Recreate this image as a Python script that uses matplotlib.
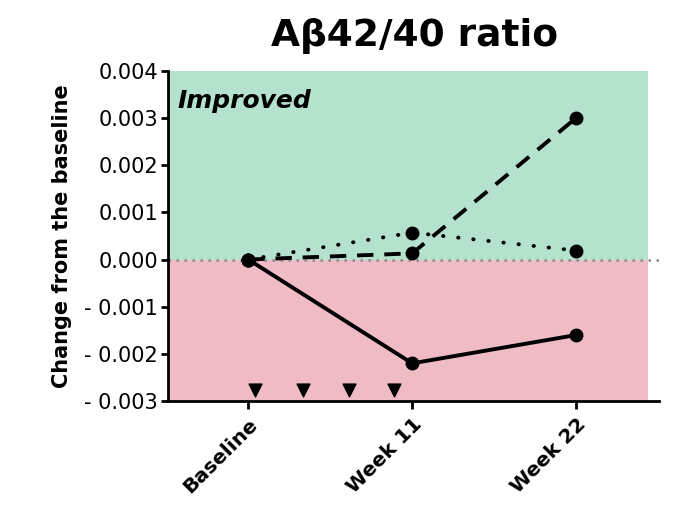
import matplotlib

matplotlib.use("Agg")
import matplotlib.pyplot as plt

# ---- data ----
timepoints = ["Baseline", "Week 11", "Week 22"]
subject_solid = [0.0, -0.0022, -0.0016]
subject_dashed = [0.0, 0.00013, 0.0030]
subject_dotted = [0.0, 0.00057, 0.00019]
dose_positions = [0.04, 0.335, 0.615, 0.89]
dose_level = -0.00277
yticks = [0.004, 0.003, 0.002, 0.001, 0.0, -0.001, -0.002, -0.003]

GREEN = "#b4e2cd"
PINK = "#efbbc4"
INK = "black"
FONT = "DejaVu Sans"

fig = plt.figure(figsize=(6.8, 5.09), dpi=100)
ax = fig.add_axes([0.247, 0.212, 0.722, 0.649])

x = list(range(len(timepoints)))
ax.set_xlim(-0.49, 2.505)
ax.set_ylim(-0.003, 0.004)

# shaded regions
ax.fill_between([-0.49, 2.44], 0, 0.004, color=GREEN, lw=0, zorder=0)
ax.fill_between([-0.49, 2.44], -0.003, 0, color=PINK, lw=0, zorder=0)
ax.axhline(0, color="#8a8a8a", lw=1.8, ls=(0, (1, 2.2)), zorder=1)

ax.plot(x, subject_solid, color=INK, lw=2.8, marker="o", ms=9, zorder=3)
ax.plot(x, subject_dashed, color=INK, lw=2.8, ls=(0, (4.2, 2.8)),
        marker="o", ms=9, zorder=3)
ax.plot(x, subject_dotted, color=INK, lw=2.8, ls=(0, (0.1, 3.8)),
        dash_capstyle="round", marker="o", ms=9, zorder=3)

ax.scatter(dose_positions, [dose_level] * len(dose_positions), marker="v",
           s=85, color=INK, zorder=3, clip_on=False)

ax.text(-0.43, 0.00335, "Improved", fontsize=18, fontweight="bold",
        style="italic", family=FONT, va="center", ha="left")

# axes styling
for side in ("top", "right"):
    ax.spines[side].set_visible(False)
ax.spines["left"].set_linewidth(2)
ax.spines["bottom"].set_linewidth(2)
ax.set_xticks(x)
ax.set_xticklabels(timepoints, rotation=45, ha="right",
                   rotation_mode="anchor", fontsize=14.5, fontweight="bold",
                   family=FONT)
ax.set_yticks(yticks)
ax.set_yticklabels([f"{v:.3f}" if v >= 0 else f"- {abs(v):.3f}"
                    for v in yticks], fontsize=15, family=FONT)
ax.tick_params(axis="both", width=2, length=5, color=INK, pad=2)
ax.tick_params(axis="x", length=6, pad=4)
ax.set_ylabel("Change from the baseline", fontsize=15, fontweight="bold",
              family=FONT, labelpad=9)

fig.text(0.61, 0.93, "Aβ42/40 ratio", fontsize=27, fontweight="bold",
         family=FONT, ha="center", va="center")

fig.savefig("out.png", dpi=100)
